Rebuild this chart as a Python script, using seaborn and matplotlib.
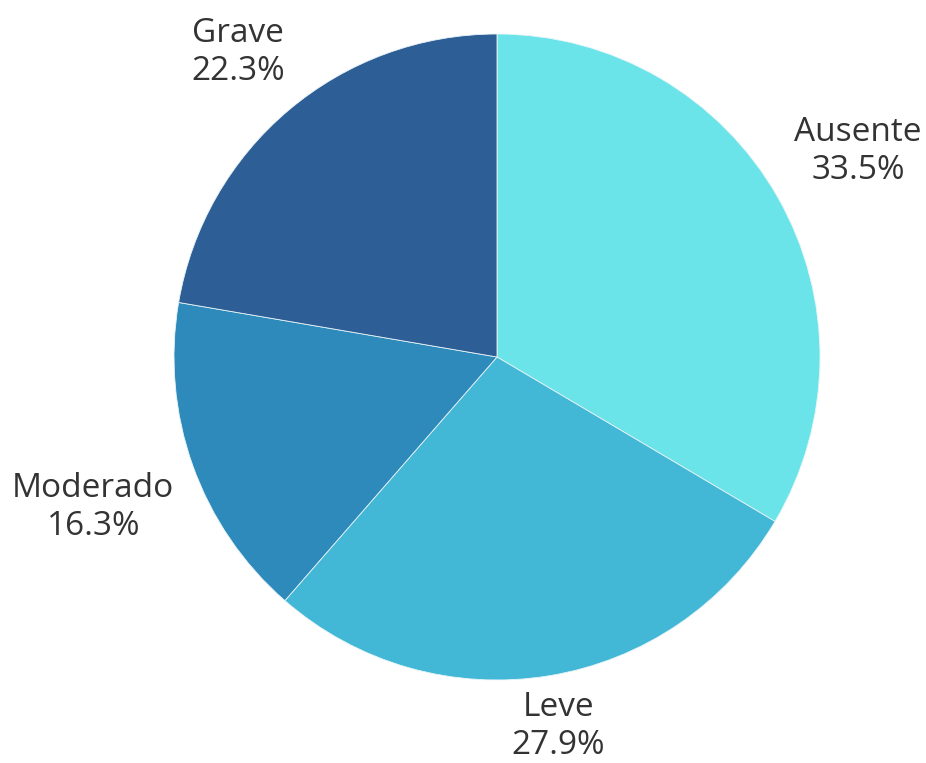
import numpy as np
import matplotlib
matplotlib.use("Agg")
import matplotlib.pyplot as plt
import seaborn as sns

categories = ["Ausente", "Leve", "Moderado", "Grave"]
shares = [33.5, 27.9, 16.3, 22.3]
colors = ["#6ae4e9", "#42b7d6", "#2d8aba", "#2e5e96"]

sns.set_theme(style="white")
plt.rcParams["font.family"] = ["Open Sans", "DejaVu Sans"]

W, H = 926, 763
fig = plt.figure(figsize=(W / 100, H / 100), dpi=100)
ax = fig.add_axes([0, 0, 1, 1])

# pie centre and radius in pixels
cx, cy, r = 497, 357, 323

wedges, _ = ax.pie(
    shares,
    colors=colors,
    startangle=90,
    counterclock=False,
    radius=1,
    center=(0, 0),
    wedgeprops=dict(edgecolor="#e8f4f8", linewidth=0.6),
    frame=True,
)
ax.set_xlim(-cx / r, (W - cx) / r)
ax.set_ylim(-(H - cy) / r, cy / r)
ax.set_aspect("equal")
ax.axis("off")

# outside labels: anchored on the box corner facing the slice
for w, name, val in zip(wedges, categories, shares):
    ang = np.deg2rad((w.theta1 + w.theta2) / 2)
    x, y = np.cos(ang), np.sin(ang)
    ha = "left" if x > 0.3 else ("right" if x < -0.3 else "center")
    va = "bottom" if y > 0.3 else ("top" if y < -0.3 else "center")
    dx = 1.02 if y > 0.7 else 1.06
    dy = 1.09 if y > 0.7 else (1.048 if y < -0.7 else 1.06)
    ax.text(dx * x + (0.02 if ha == "center" else 0), dy * y,
            f"{name}\n{val:.1f}%", ha=ha, va=va,
            multialignment="center", fontsize=24, color="#333333",
            linespacing=1.2)

fig.savefig("out.png", dpi=100, facecolor="white")
